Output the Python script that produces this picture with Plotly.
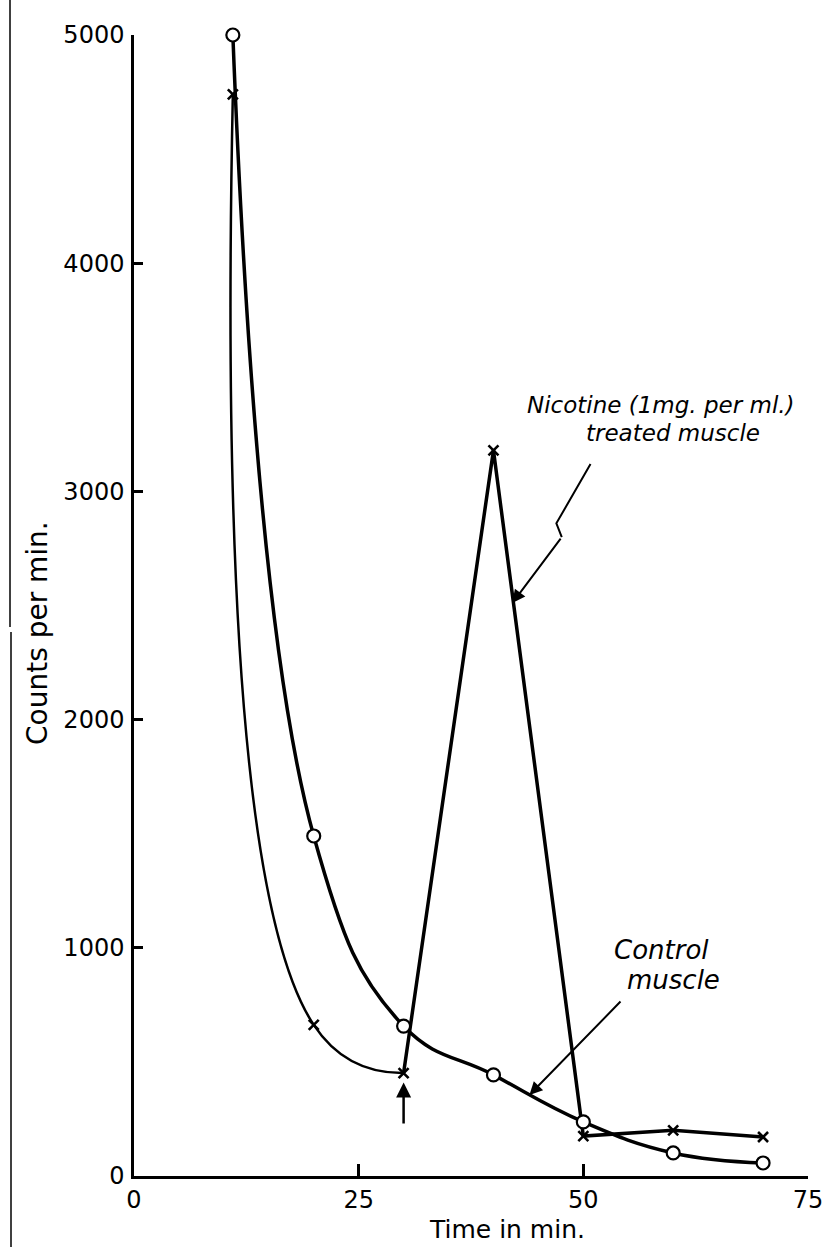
import plotly.graph_objects as go

# ---- data ----
time_control = [11, 20, 30, 40, 50, 60, 70]
counts_control = [5000, 1490, 657, 443, 237, 101, 57]

time_nicotine = [11, 20, 30, 40, 50, 60, 70]
counts_nicotine = [4740, 662, 451, 3180, 175, 200, 171]

nicotine_added_time = 30

x_ticks = [0, 25, 50, 75]
y_ticks = [0, 1000, 2000, 3000, 4000, 5000]

W, H = 822, 1247
L, R, T, B = 134, 14, 35, 71
FONT = "DejaVu Sans"
BLACK = "#000000"
X_MAX = 75.0

fig = go.Figure()

# control muscle curve (smooth)
fig.add_trace(go.Scatter(
    x=time_control, y=counts_control, mode="lines",
    line=dict(color=BLACK, width=3.5, shape="spline", smoothing=1.2),
    hoverinfo="skip", showlegend=False, cliponaxis=False))

# nicotine treated: smooth early part, straight segments after treatment
fig.add_trace(go.Scatter(
    x=time_nicotine[:3], y=counts_nicotine[:3], mode="lines",
    line=dict(color=BLACK, width=2.5, shape="spline", smoothing=1.3),
    hoverinfo="skip", showlegend=False, cliponaxis=False))
fig.add_trace(go.Scatter(
    x=time_nicotine[2:], y=counts_nicotine[2:], mode="lines",
    line=dict(color=BLACK, width=3.5),
    hoverinfo="skip", showlegend=False, cliponaxis=False))

# markers
fig.add_trace(go.Scatter(
    x=time_control, y=counts_control, mode="markers",
    marker=dict(symbol="circle", size=13, color="white",
                line=dict(color=BLACK, width=2.2)),
    showlegend=False, cliponaxis=False))
fig.add_trace(go.Scatter(
    x=time_nicotine, y=counts_nicotine, mode="markers",
    marker=dict(symbol="x-thin", size=10,
                line=dict(color=BLACK, width=2.6)),
    showlegend=False, cliponaxis=False))

# zig-zag leader for the nicotine label
fig.add_trace(go.Scatter(
    x=[50.8, 47.0, 47.6], y=[3120, 2860, 2800], mode="lines",
    line=dict(color=BLACK, width=2),
    hoverinfo="skip", showlegend=False, cliponaxis=False))

pw = W - L - R
ph = H - T - B

annotations = [
    # arrow marking nicotine addition
    dict(x=nicotine_added_time, y=410, ax=nicotine_added_time, ay=223,
         xref="x", yref="y", axref="x", ayref="y", text="",
         showarrow=True, arrowhead=2, arrowsize=1.2, arrowwidth=2.5,
         arrowcolor=BLACK),
    # control leader
    dict(x=44, y=355, ax=54.3, ay=771, xref="x", yref="y",
         axref="x", ayref="y", text="", showarrow=True, arrowhead=2,
         arrowsize=1.3, arrowwidth=2, arrowcolor=BLACK),
    # nicotine leader (last segment)
    dict(x=42.1, y=2511, ax=47.6, ay=2800, xref="x", yref="y",
         axref="x", ayref="y", text="", showarrow=True, arrowhead=2,
         arrowsize=1.3, arrowwidth=2, arrowcolor=BLACK),
    # labels
    dict(x=58.6, y=3380, xref="x", yref="y", text="<i>Nicotine (1mg. per ml.)</i>",
         showarrow=False, font=dict(family=FONT, size=23, color=BLACK)),
    dict(x=60.0, y=3256, xref="x", yref="y", text="<i>treated muscle</i>",
         showarrow=False, font=dict(family=FONT, size=23, color=BLACK)),
    dict(x=58.7, y=990, xref="x", yref="y", text="<i>Control</i>",
         showarrow=False, font=dict(family=FONT, size=26, color=BLACK)),
    dict(x=60.0, y=859, xref="x", yref="y", text="<i>muscle</i>",
         showarrow=False, font=dict(family=FONT, size=26, color=BLACK)),
    # axis titles
    dict(x=(37 - L) / pw, y=(1176 - 633) / ph, xanchor="center", yanchor="middle",
         xref="paper", yref="paper", text="Counts per min.", textangle=-90,
         showarrow=False, font=dict(family=FONT, size=28, color=BLACK)),
    dict(x=(507 - L) / pw, y=(1176 - 1229) / ph, xanchor="center", yanchor="middle",
         xref="paper", yref="paper", text="Time in min.",
         showarrow=False, font=dict(family=FONT, size=25, color=BLACK)),
]

shapes = [
    dict(type="line", xref="paper", yref="paper",
         x0=(10 - L) / pw, x1=(10 - L) / pw,
         y0=(1176 - 0) / ph, y1=(1176 - 627) / ph,
         line=dict(color=BLACK, width=1.5)),
    dict(type="line", xref="paper", yref="paper",
         x0=(11 - L) / pw, x1=(11 - L) / pw,
         y0=(1176 - 632) / ph, y1=(1176 - 1247) / ph,
         line=dict(color=BLACK, width=1.5)),
]

fig.update_layout(
    width=W, height=H,
    margin=dict(l=L, r=R, t=T, b=B, autoexpand=False),
    paper_bgcolor="white", plot_bgcolor="white",
    font=dict(family=FONT, color=BLACK),
    annotations=annotations, shapes=shapes,
    xaxis=dict(range=[0, X_MAX + 0.001], tickvals=x_ticks,
               ticktext=[str(v) for v in x_ticks], automargin=False,
               showgrid=False, zeroline=False, showline=True, linecolor=BLACK,
               linewidth=2.5, ticks="inside", ticklen=12, tickwidth=2.5,
               tickcolor=BLACK, tickfont=dict(family=FONT, size=24, color=BLACK),
               ticklabelstandoff=0, ticklabeloverflow="allow"),
    yaxis=dict(range=[0, 5000], tickvals=y_ticks, ticktext=[str(v) for v in y_ticks],
               automargin=False,
               showgrid=False, zeroline=False, showline=True, linecolor=BLACK,
               linewidth=2.5, ticks="inside", ticklen=9, tickwidth=2.5,
               tickcolor=BLACK, tickfont=dict(family=FONT, size=24, color=BLACK),
               ticklabelstandoff=2, ticklabeloverflow="allow"),
)

fig.write_html("out.html")
